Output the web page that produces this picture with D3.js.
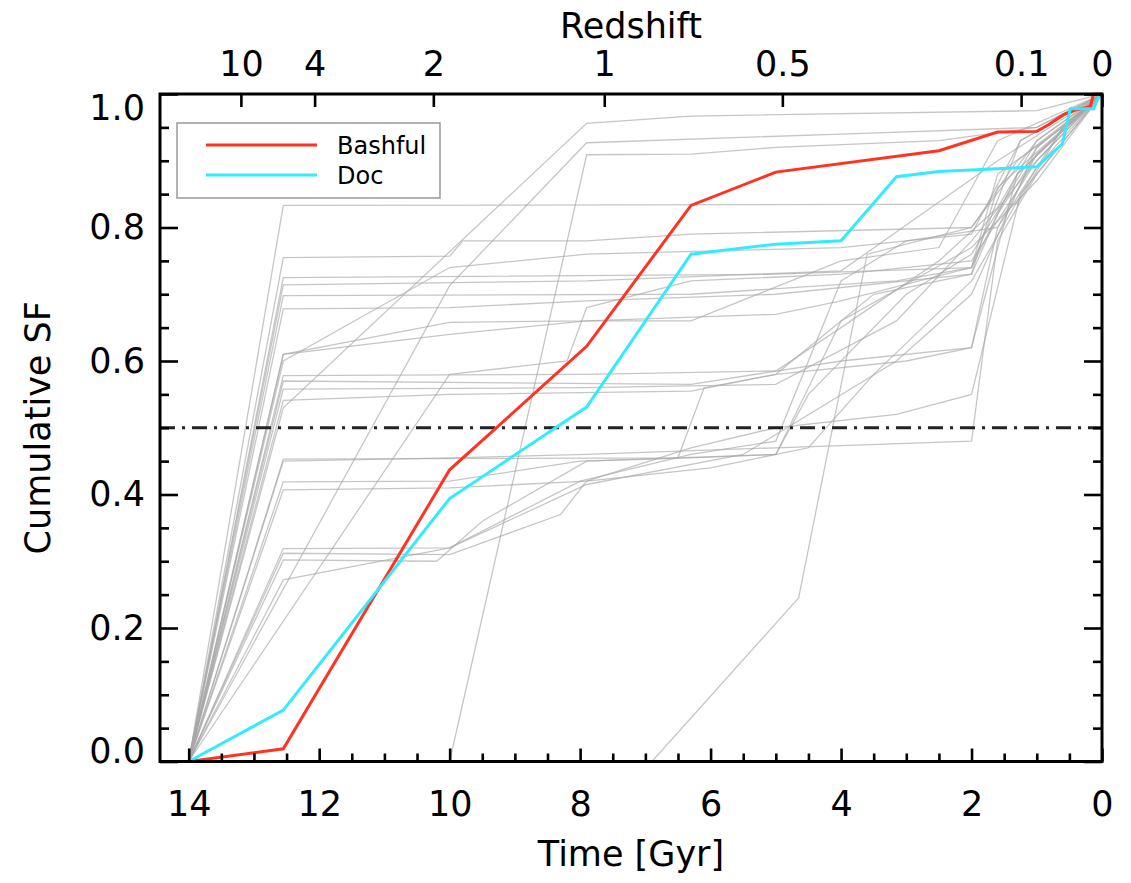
<!DOCTYPE html>
<html>
<head>
<meta charset="utf-8">
<script src="https://cdn.jsdelivr.net/npm/d3@7"></script>
<style>
  body { margin: 0; background: #fff; }
  text { font-family: "DejaVu Sans", sans-serif; fill: #000; }
</style>
</head>
<body>
<div id="chart"></div>
<script>
// Lookback time [Gyr] ticks and redshift labels for the top axis
const timeTicks = [14, 12, 10, 8, 6, 4, 2, 0];
const sfTicks = [0, 0.2, 0.4, 0.6, 0.8, 1.0];
const redshiftLabels = ["10", "4", "2", "1", "0.5", "0.1", "0"];
const redshiftTimes = [13.2, 12.07, 10.25, 7.63, 4.9, 1.24, 0];

// highlighted galaxies: [time, cumulative SF]
const bashful = [[14, 0], [12.55, 0.019], [10.0, 0.437], [7.9, 0.622], [6.3, 0.833], [5.0, 0.883],
  [2.5, 0.915], [1.6, 0.943], [1.0, 0.944], [0.82, 0.954], [0.59, 0.969], [0.41, 0.976],
  [0.18, 0.981], [0.13, 1.0], [0, 1.0]];
const doc = [[14, 0], [12.55, 0.077], [10.0, 0.394], [7.9, 0.531], [6.3, 0.760], [5.0, 0.775],
  [4.0, 0.780], [3.15, 0.876], [2.5, 0.884], [1.6, 0.888], [1.0, 0.891], [0.61, 0.925],
  [0.485, 0.978], [0.13, 0.978], [0.03, 1.0], [0, 1.0]];

// the rest of the sample
const others = [
  [[14, 0], [12.55, 0.833], [1.3, 0.835], [0.6, 0.95], [0, 1]],
  [[14, 0], [12.55, 0.755], [10, 0.757], [9.8, 0.78], [7.9, 0.78], [6.3, 0.79], [2.0, 0.80], [1.3, 0.90], [0, 1]],
  [[14, 0], [12.55, 0.725], [5.0, 0.73], [2.0, 0.74], [1.6, 0.88], [0.6, 0.95], [0, 1]],
  [[14, 0], [12.55, 0.714], [7.9, 0.72], [4.0, 0.735], [1.6, 0.90], [0, 1]],
  [[14, 0], [12.55, 0.698], [6.3, 0.70], [3.15, 0.72], [2.0, 0.74], [1.25, 0.93], [0, 1]],
  [[14, 0], [12.55, 0.678], [10, 0.68], [7.9, 0.69], [5, 0.70], [2.0, 0.73], [1.6, 0.82], [1.0, 0.91], [0, 1]],
  [[14, 0], [12.55, 0.610], [10, 0.658], [7.9, 0.66], [5.0, 0.67], [4.0, 0.69], [2.0, 0.74], [1.3, 0.88], [0, 1]],
  [[14, 0], [12.55, 0.578], [7.9, 0.58], [5.0, 0.585], [4.0, 0.65], [2.5, 0.75], [1.6, 0.83], [1.0, 0.93], [0, 1]],
  [[14, 0], [12.55, 0.570], [6.3, 0.565], [4.0, 0.60], [2.0, 0.62], [1.6, 0.80], [0.6, 0.95], [0, 1]],
  [[14, 0], [12.55, 0.558], [7.9, 0.56], [5.0, 0.565], [3.15, 0.66], [2.0, 0.78], [1.0, 0.90], [0, 1]],
  [[14, 0], [12.55, 0.541], [10, 0.55], [6.3, 0.555], [5, 0.58], [3.5, 0.70], [2.0, 0.73], [1.6, 0.86], [0, 1]],
  [[14, 0], [12.55, 0.453], [6.5, 0.455], [6.1, 0.56], [5.0, 0.58], [3.0, 0.60], [2.0, 0.62], [1.3, 0.88], [0, 1]],
  [[14, 0], [12.55, 0.419], [10, 0.42], [8.0, 0.45], [5.0, 0.46], [4.5, 0.55], [3.0, 0.70], [2.0, 0.76], [1.0, 0.92], [0, 1]],
  [[14, 0], [12.55, 0.407], [10, 0.41], [7.9, 0.42], [6.0, 0.44], [4.5, 0.47], [3.5, 0.58], [2, 0.72], [1.0, 0.89], [0, 1]],
  [[14, 0], [12.55, 0.319], [10, 0.32], [8, 0.42], [6.3, 0.46], [5, 0.48], [4, 0.72], [3, 0.78], [1.6, 0.80], [1.0, 0.91], [0, 1]],
  [[14, 0], [12.55, 0.312], [10, 0.31], [8.3, 0.37], [7.9, 0.42], [6.3, 0.47], [5.0, 0.50], [3.15, 0.52], [2.0, 0.55], [1.25, 0.85], [0, 1]],
  [[14, 0], [12.55, 0.302], [10.2, 0.30], [9.5, 0.36], [7.9, 0.45], [6.3, 0.455], [5, 0.46], [4.0, 0.66], [2.0, 0.77], [1.0, 0.87], [0, 1]],
  [[14, 0], [12.55, 0.272], [10, 0.32], [7.9, 0.415], [5.5, 0.46], [3.15, 0.60], [2.0, 0.70], [1.0, 0.92], [0, 1]],
  [[14, 0], [10, 0], [7.9, 0.909], [6.3, 0.91], [5, 0.92], [2.5, 0.93], [1.0, 0.95], [0, 1]],
  [[14, 0], [6.9, 0], [4.65, 0.245], [3.6, 0.76], [2.0, 0.80], [1.0, 0.93], [0, 1]],
  [[14, 0], [12.55, 0.53], [7.9, 0.956], [6.3, 0.967], [1.0, 0.975], [0, 1]],
  [[14, 0], [10, 0.713], [7.9, 0.927], [4, 0.94], [1.0, 0.95], [0, 1]],
  [[14, 0], [10, 0.58], [8.2, 0.60], [7.9, 0.68], [6.3, 0.72], [4.0, 0.73], [2.0, 0.75], [1.0, 0.90], [0, 1]],
  [[14, 0], [12.55, 0.45], [10, 0.455], [7.9, 0.46], [5.0, 0.47], [2.0, 0.48], [1.6, 0.78], [1.0, 0.88], [0, 1]],
  [[14, 0], [12.55, 0.6], [10, 0.74], [7.9, 0.76], [4.0, 0.77], [2.0, 0.79], [1.25, 0.93], [0, 1]],
  [[14, 0], [12.55, 0.61], [10, 0.64], [7.9, 0.66], [6.3, 0.66], [4.0, 0.75], [2.5, 0.77], [1.6, 0.93], [0, 1]]
];

const width = 1131, height = 883;
const frame = { left: 160, right: 1102, top: 94, bottom: 761.5 };

const svg = d3.select("#chart").append("svg")
  .attr("width", width)
  .attr("height", height);

const x = d3.scaleLinear().domain([14.44, 0]).range([frame.left, frame.right]);
const y = d3.scaleLinear().domain([0, 1]).range([frame.bottom, frame.top]);

const line = d3.line().x(d => x(d[0])).y(d => y(d[1]));

svg.append("defs").append("clipPath").attr("id", "plot")
  .append("rect")
  .attr("x", frame.left).attr("y", frame.top - 3)
  .attr("width", frame.right - frame.left).attr("height", frame.bottom - frame.top + 6);

const plot = svg.append("g").attr("clip-path", "url(#plot)");

plot.selectAll(".other")
  .data(others)
  .join("path")
  .attr("class", "other")
  .attr("d", line)
  .attr("fill", "none")
  .attr("stroke", "#a8a8a8")
  .attr("stroke-opacity", 0.65)
  .attr("stroke-width", 1.3);

// half of the stellar mass
plot.append("line")
  .attr("x1", frame.left).attr("x2", frame.right)
  .attr("y1", y(0.5)).attr("y2", y(0.5))
  .attr("stroke", "#222")
  .attr("stroke-width", 3)
  .attr("stroke-dasharray", "15,7,3,7");

plot.append("path")
  .datum(bashful)
  .attr("d", line)
  .attr("fill", "none")
  .attr("stroke", "#ff3322")
  .attr("stroke-width", 3);

plot.append("path")
  .datum(doc)
  .attr("d", line)
  .attr("fill", "none")
  .attr("stroke", "#33eaff")
  .attr("stroke-width", 3);

// axes, IDL style: ticks inside the frame
function styleAxis(g) {
  g.select(".domain").remove();
  g.selectAll(".tick line").attr("stroke", "#000").attr("stroke-width", 2.6);
  g.selectAll(".tick text").attr("font-size", 35).attr("font-family", "DejaVu Sans").attr("fill", "#000");
}

const minorTime = d3.range(0, 14.01, 0.5).filter(t => t % 2 !== 0);
const minorSF = d3.range(0, 1.001, 0.05).filter(v => Math.round(v * 100) % 20 !== 0);

svg.append("g")
  .attr("transform", `translate(0,${frame.bottom})`)
  .call(d3.axisBottom(x).tickValues(timeTicks).tickFormat(d3.format("d")).tickSize(-13).tickPadding(30))
  .call(styleAxis);

svg.append("g")
  .attr("transform", `translate(0,${frame.bottom})`)
  .call(d3.axisBottom(x).tickValues(minorTime).tickFormat("").tickSize(-8))
  .call(styleAxis);

svg.append("g")
  .attr("transform", `translate(0,${frame.top})`)
  .call(d3.axisTop(x).tickValues(redshiftTimes)
    .tickFormat((d, i) => redshiftLabels[i]).tickSize(-13).tickPadding(18))
  .call(styleAxis);

const yAxis = svg.append("g")
  .attr("transform", `translate(${frame.left},0)`)
  .call(d3.axisLeft(y).tickValues(sfTicks).tickFormat(d3.format(".1f")).tickSize(-18).tickPadding(15))
  .call(styleAxis);

// keep the end labels inside the frame height
yAxis.selectAll(".tick text")
  .attr("dy", d => d === 1 ? "0.72em" : d === 0 ? "0.04em" : "0.32em");

svg.append("g")
  .attr("transform", `translate(${frame.left},0)`)
  .call(d3.axisLeft(y).tickValues(minorSF).tickFormat("").tickSize(-9))
  .call(styleAxis);

svg.append("g")
  .attr("transform", `translate(${frame.right},0)`)
  .call(d3.axisRight(y).tickValues(sfTicks).tickFormat("").tickSize(-18))
  .call(styleAxis);

svg.append("g")
  .attr("transform", `translate(${frame.right},0)`)
  .call(d3.axisRight(y).tickValues(minorSF).tickFormat("").tickSize(-9))
  .call(styleAxis);

svg.append("rect")
  .attr("x", frame.left).attr("y", frame.top)
  .attr("width", frame.right - frame.left).attr("height", frame.bottom - frame.top)
  .attr("fill", "none")
  .attr("stroke", "#000")
  .attr("stroke-width", 3);

// titles
svg.append("text")
  .attr("x", (frame.left + frame.right) / 2).attr("y", 38)
  .attr("text-anchor", "middle")
  .attr("font-size", 35)
  .text("Redshift");

svg.append("text")
  .attr("x", (frame.left + frame.right) / 2).attr("y", 866)
  .attr("text-anchor", "middle")
  .attr("font-size", 35)
  .text("Time [Gyr]");

svg.append("text")
  .attr("transform", `translate(50,${(frame.top + frame.bottom) / 2}) rotate(-90)`)
  .attr("text-anchor", "middle")
  .attr("font-size", 35)
  .text("Cumulative SF");

// legend
const legend = svg.append("g");
legend.append("rect")
  .attr("x", 177).attr("y", 123)
  .attr("width", 263).attr("height", 75)
  .attr("fill", "#fff")
  .attr("stroke", "#999")
  .attr("stroke-width", 1.5);

const legendItems = [["Bashful", "#ff3322"], ["Doc", "#33eaff"]];
legendItems.forEach(([name, color], i) => {
  const ly = 145 + i * 30;
  legend.append("line")
    .attr("x1", 206).attr("x2", 317)
    .attr("y1", ly).attr("y2", ly)
    .attr("stroke", color)
    .attr("stroke-width", 3);
  legend.append("text")
    .attr("x", 337).attr("y", ly)
    .attr("dy", "0.36em")
    .attr("font-size", 24)
    .text(name);
});
</script>
</body>
</html>
